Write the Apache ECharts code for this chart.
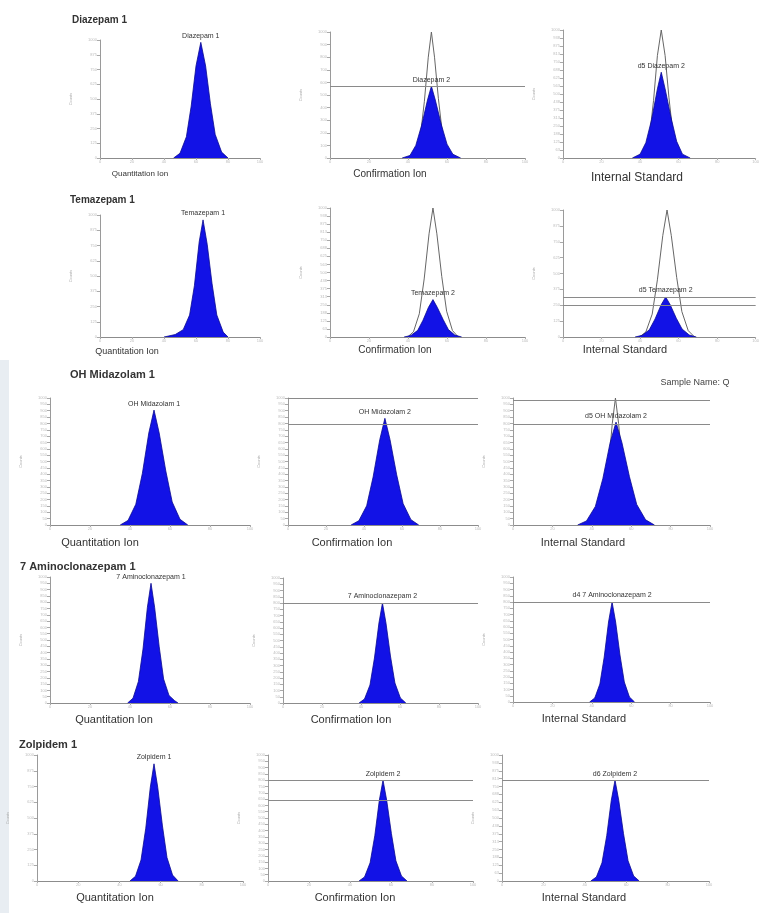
<!DOCTYPE html>
<html><head><meta charset="utf-8">
<script src="https://cdn.jsdelivr.net/npm/echarts@6/dist/echarts.min.js"></script>
<style>html,body{margin:0;padding:0;background:#fff}#c{width:762px;height:913px}</style>
</head><body><div id="c"></div>
<script>
// ---------- text ----------
const rowTitles = ['Diazepam 1', 'Temazepam 1', 'OH Midazolam 1', '7 Aminoclonazepam 1', 'Zolpidem 1'];
const ionLabels = ['Quantitation Ion', 'Confirmation Ion', 'Internal Standard'];
const sampleName = 'Sample Name: Q';
const yAxisName = 'Counts';

// ---------- peak names (quant, confirm, internal std) ----------
const diazepamNames = ['Diazepam 1', 'Diazepam 2', 'd5 Diazepam 2'];
const temazepamNames = ['Temazepam 1', 'Temazepam 2', 'd5 Temazepam 2'];
const ohMidazolamNames = ['OH Midazolam 1', 'OH Midazolam 2', 'd5 OH Midazolam 2'];
const aminoNames = ['7 Aminoclonazepam 1', '7 Aminoclonazepam 2', 'd4 7 Aminoclonazepam 2'];
const zolpidemNames = ['Zolpidem 1', 'Zolpidem 2', 'd6 Zolpidem 2'];

// ---------- retention time (x, % of window) and abundance (y, % of full scale) ----------
const diazepamT = [
  [46, 50, 54, 57, 60, 63, 66, 69, 72, 76, 80],
  [37, 41, 44, 47, 50, 52, 54, 57, 60, 63, 67],
  [36, 40, 43, 46, 49, 51, 53, 56, 59, 62, 66]];
const diazepamY = [
  [0, 4, 18, 44, 78, 98, 78, 46, 20, 5, 0],
  [0, 2, 10, 26, 46, 57, 46, 27, 11, 3, 0],
  [0, 3, 12, 30, 54, 67, 54, 32, 13, 3, 0]];
const diazepamOutT = [null,
  [41.6, 44, 46.4, 48.4, 50.4, 52, 53.6, 55.6, 57.6, 60, 62.4],
  [41, 43, 45, 47, 49, 51, 53, 55, 57, 59, 61]];
const diazepamOutY = [null,
  [0, 4, 18, 45, 80, 100, 80, 47, 20, 5, 0],
  [0, 4, 18, 45, 80, 100, 80, 47, 20, 5, 0]];
const diazepamRef = [[], [57], []];

const temazepamT = [
  [40, 47, 52, 56, 59, 62, 64.4, 67, 70, 73, 77, 80],
  [38, 41.5, 45, 47.7, 50.5, 52.8, 55, 58, 60.7, 64, 67.5],
  [37.4, 41.1, 44.8, 47.8, 50.9, 53.3, 55.7, 58.8, 61.8, 65.5, 69.2]];
const temazepamY = [
  [0, 2, 6, 18, 42, 78, 96, 76, 44, 18, 4, 0],
  [0, 1.2, 5.2, 13, 23, 29, 23, 13.6, 5.8, 1.5, 0],
  [0, 1.3, 5.7, 14.2, 25.2, 31.5, 25.2, 14.8, 6.3, 1.6, 0]];
const temazepamOutT = [null,
  [39.8, 42.8, 45.8, 48.3, 50.8, 52.8, 54.8, 57.3, 59.8, 62.8, 65.8],
  [39.7, 43, 46.3, 49, 51.8, 54, 56.2, 59, 61.7, 65, 68.3]];
const temazepamOutY = [null,
  [0, 4, 18, 45, 80, 100, 80, 47, 20, 5, 0],
  [0, 4, 18, 45, 80, 100, 80, 47, 20, 5, 0]];
const temazepamRef = [[], [], [31.5, 25]];

const ohMidazolamT = [
  [35.1, 39, 42.9, 46.2, 49.4, 52, 54.6, 57.9, 61.1, 65, 68.9],
  [33.2, 37.3, 41.4, 44.8, 48.3, 51, 53.7, 57.2, 60.6, 64.7, 68.8],
  [32.8, 37.3, 41.8, 45.6, 49.3, 52.3, 55.3, 59.1, 62.8, 67.3, 71.8]];
const ohMidazolamY = [
  [0, 3.6, 16.3, 40.7, 72.4, 90.5, 72.4, 42.5, 18.1, 4.5, 0],
  [0, 3.4, 15.1, 37.8, 67.2, 84, 67.2, 39.5, 16.8, 4.2, 0],
  [0, 3.2, 14.6, 36.5, 64.8, 81, 64.8, 38.1, 16.2, 4.1, 0]];
const ohMidazolamOutT = [null, null,
  [41.6, 44, 46.4, 48.4, 50.4, 52, 53.6, 55.6, 57.6, 60, 62.4]];
const ohMidazolamOutY = [null, null,
  [0, 4, 18, 45, 80, 100, 80, 47, 20, 5, 0]];
const ohMidazolamRef = [[], [100, 79], [98, 79]];

const aminoT = [
  [38.8, 41.5, 44.2, 46.5, 48.7, 50.5, 52.3, 54.6, 56.8, 59.5, 62.2, 64],
  [39, 41.8, 44.6, 46.9, 49.2, 51, 52.8, 55.1, 57.4, 60.2, 63],
  [38.9, 41.5, 44.1, 46.3, 48.5, 50.3, 52.1, 54.3, 56.5, 59.1, 61.7]];
const aminoY = [
  [0, 3.8, 17.1, 42.8, 76, 95, 76, 44.7, 19, 6, 2, 0],
  [0, 3.2, 14.4, 36, 64, 80, 64, 37.6, 16, 4, 0],
  [0, 3.2, 14.4, 36, 64, 80, 64, 37.6, 16, 4, 0]];
const aminoRef = [[], [80], [80]];

const zolpidemT = [
  [45.1, 47.8, 50.5, 52.8, 55, 56.8, 58.6, 60.9, 63.1, 65.8, 68.5],
  [44.4, 47.1, 49.8, 52.1, 54.3, 56.1, 57.9, 60.2, 62.4, 65.1, 67.8],
  [42.9, 45.6, 48.3, 50.6, 52.8, 54.6, 56.4, 58.7, 60.9, 63.6, 66.3]];
const zolpidemY = [
  [0, 3.7, 16.7, 41.9, 74.4, 93, 74.4, 43.7, 18.6, 4.7, 0],
  [0, 3.2, 14.4, 36, 64, 80, 64, 37.6, 16, 4, 0],
  [0, 3.2, 14.4, 36, 64, 80, 64, 37.6, 16, 4, 0]];
const zolpidemRef = [[], [80, 64], [80]];

// ---------- layout (pixels) ----------
const panels = [
  {l: 100, t: 40, w: 160, h: 118, iv: 12.5}, {l: 330, t: 32, w: 195, h: 126, iv: 10}, {l: 563, t: 30, w: 197, h: 128, iv: 6.25},
  {l: 100, t: 215, w: 160, h: 122, iv: 12.5}, {l: 330, t: 208, w: 195, h: 129, iv: 6.25}, {l: 563, t: 210, w: 197, h: 127, iv: 12.5},
  {l: 50, t: 398, w: 200, h: 127, iv: 5}, {l: 288, t: 398, w: 190, h: 127, iv: 5}, {l: 513, t: 398, w: 197, h: 127, iv: 5},
  {l: 50, t: 577, w: 200, h: 126, iv: 5}, {l: 283, t: 578, w: 195, h: 125, iv: 5}, {l: 513, t: 577, w: 197, h: 125, iv: 5},
  {l: 37, t: 755, w: 206, h: 126, iv: 12.5}, {l: 268, t: 755, w: 205, h: 126, iv: 5}, {l: 502, t: 755, w: 207, h: 126, iv: 6.25}
];
const rowTitlePos = [[72, 20, 10], [70, 200, 10], [70, 375, 11], [20, 567, 11], [19, 745, 11]];
const ionPos = [
  [[140, 174, 8], [390, 174, 10], [637, 178, 12]],
  [[127, 352, 9], [395, 350, 10], [625, 350, 11]],
  [[100, 543, 11], [352, 543, 11], [583, 543, 11]],
  [[114, 720, 11], [351, 720, 11], [584, 719, 11]],
  [[115, 898, 11], [355, 898, 11], [584, 898, 11]]
];

const rows = [
  {names: diazepamNames, T: diazepamT, Y: diazepamY, OT: diazepamOutT, OY: diazepamOutY, ref: diazepamRef},
  {names: temazepamNames, T: temazepamT, Y: temazepamY, OT: temazepamOutT, OY: temazepamOutY, ref: temazepamRef},
  {names: ohMidazolamNames, T: ohMidazolamT, Y: ohMidazolamY, OT: ohMidazolamOutT, OY: ohMidazolamOutY, ref: ohMidazolamRef},
  {names: aminoNames, T: aminoT, Y: aminoY, OT: [null, null, null], OY: [null, null, null], ref: aminoRef},
  {names: zolpidemNames, T: zolpidemT, Y: zolpidemY, OT: [null, null, null], OY: [null, null, null], ref: zolpidemRef}
];

const FONT = 'Liberation Sans, Arial, sans-serif';
const grid = [], xAxis = [], yAxis = [], series = [];
const zip = (a, b) => a.map((v, i) => [v, b[i]]);

panels.forEach((p, i) => {
  grid.push({left: p.l, top: p.t, width: p.w, height: p.h});
  xAxis.push({
    type: 'value', gridIndex: i, min: 0, max: 100, interval: 20,
    axisLine: {lineStyle: {color: '#8c8c8c', width: 1}},
    axisTick: {length: 2, lineStyle: {color: '#aaa'}},
    axisLabel: {fontSize: 4, color: '#bbb', margin: 2, fontFamily: FONT},
    splitLine: {show: false}
  });
  yAxis.push({
    type: 'value', gridIndex: i, min: 0, max: 100, interval: p.iv,
    axisLine: {show: true, lineStyle: {color: '#9a9a9a', width: 1}},
    axisTick: {show: true, length: 3, lineStyle: {color: '#aaa'}},
    axisLabel: {fontSize: 4, color: '#bbb', margin: 3, fontFamily: FONT, formatter: v => Math.round(v * 10)},
    splitLine: {show: false},
    name: yAxisName, nameLocation: 'middle', nameGap: 27, nameRotate: 90,
    nameTextStyle: {fontSize: 4, color: '#aaa', fontFamily: FONT}
  });
});

rows.forEach((r, ri) => {
  for (let c = 0; c < 3; c++) {
    const gi = ri * 3 + c;
    if (r.OT[c]) {
      series.push({
        type: 'line', xAxisIndex: gi, yAxisIndex: gi, showSymbol: false, silent: true,
        data: zip(r.OT[c], r.OY[c]), z: 1,
        lineStyle: {color: '#666', width: 1}
      });
    }
    series.push({
      type: 'line', xAxisIndex: gi, yAxisIndex: gi, showSymbol: false, silent: true, z: 2,
      data: zip(r.T[c], r.Y[c]),
      lineStyle: {color: '#0a0a90', width: 0.8},
      areaStyle: {color: '#1212e6', opacity: 1},
      markPoint: {
        symbol: 'circle', symbolSize: 0, silent: true,
        data: [{type: 'max', valueDim: 'y'}],
        label: {show: true, position: 'top', distance: 3, formatter: r.names[c],
          fontSize: 7, color: '#333', fontFamily: FONT}
      },
      markLine: r.ref[c].length ? {
        silent: true, symbol: 'none', label: {show: false},
        lineStyle: {color: '#8a8a8a', width: 1, type: 'solid'},
        data: r.ref[c].map(v => ({yAxis: v}))
      } : undefined
    });
  }
});

const graphic = [
  {type: 'rect', left: 0, top: 360, shape: {width: 9, height: 553}, style: {fill: '#e8edf2'}, silent: true}
];
rowTitles.forEach((t, i) => {
  const [x, y, fs] = rowTitlePos[i];
  graphic.push({type: 'text', x, y, style: {text: t, fontSize: fs, fontWeight: 'bold', fill: '#333',
    fontFamily: FONT, textVerticalAlign: 'middle'}});
});
ionPos.forEach(row => row.forEach(([x, y, fs], c) => {
  graphic.push({type: 'text', x, y, style: {text: ionLabels[c], fontSize: fs, fill: '#333',
    fontFamily: FONT, textAlign: 'center', textVerticalAlign: 'middle'}});
}));
graphic.push({type: 'text', x: 695, y: 383, style: {text: sampleName, fontSize: 9, fill: '#444',
  fontFamily: FONT, textAlign: 'center', textVerticalAlign: 'middle'}});

const chart = echarts.init(document.getElementById('c'), null, {renderer: 'canvas'});
chart.setOption({
  animation: false, backgroundColor: '#fff',
  grid, xAxis, yAxis, series, graphic
});
</script></body></html>
